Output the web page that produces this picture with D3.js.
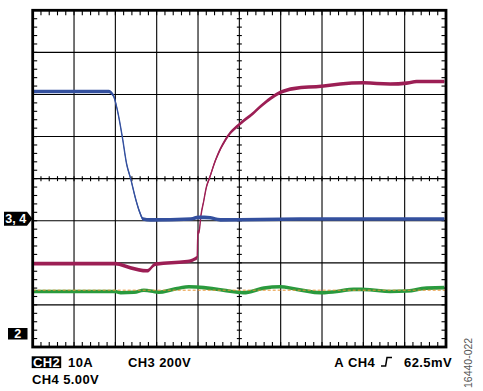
<!DOCTYPE html>
<html>
<head>
<meta charset="utf-8">
<script src="https://cdn.jsdelivr.net/npm/d3@7"></script>
<style>
html,body{margin:0;padding:0;background:#fff;}
svg{display:block;font-family:"Liberation Sans",Arial,sans-serif;}
</style>
</head>
<body>
<svg id="c" width="483" height="391"></svg>
<script>
// Time and amplitude in screen divisions (10 x 8 graticule, centre = 0)
const blueT = [0.02,1.84,1.95,2.05,2.17,2.27,2.37,2.49,2.59,2.67,2.85,3.82,4.01,4.30,4.54,6.47,9.96];
const blueV = [2.07,2.07,1.98,1.62,0.98,0.36,0.00,-0.48,-0.80,-0.96,-0.98,-0.96,-0.92,-0.93,-0.98,-0.96,-0.96];

const redT = [0.02,2.00,2.37,2.77,2.97,3.74,3.92,3.98,3.99,4.00,4.02,4.07,4.14,4.20,4.28,4.42,4.70,5.01,5.27,5.59,5.99,6.31,7.04,7.44,8.00,8.65,9.05,9.29,9.96];
const redV = [-2.02,-2.02,-2.12,-2.19,-2.03,-1.97,-1.91,-1.87,-1.48,-1.24,-1.29,-0.88,-0.52,-0.21,0.02,0.43,0.98,1.30,1.50,1.78,2.05,2.14,2.20,2.25,2.28,2.25,2.27,2.31,2.31];

const greenT = [0.02,2.00,2.13,2.45,2.69,2.85,3.05,3.45,3.78,4.14,4.54,5.10,5.59,5.99,6.39,6.96,7.36,7.76,8.16,8.65,9.05,9.53,9.96];
const greenV = [-2.68,-2.68,-2.71,-2.70,-2.65,-2.67,-2.70,-2.62,-2.57,-2.59,-2.64,-2.71,-2.60,-2.57,-2.63,-2.71,-2.68,-2.63,-2.64,-2.68,-2.67,-2.60,-2.59];

const trigLevel = -2.65;

const labelsLeft = ["CH2","10A","CH3 200V"];
const labelCH4 = "CH4 5.00V";
const labelTrig = ["A","CH4","62.5mV"];
const figId = "16440-022";
const markers = ["3, 4","2"];

const svg = d3.select("#c");
const x = d3.scaleLinear().domain([0,10]).range([32.7,446]);
const y = d3.scaleLinear().domain([-4,4]).range([347,10.3]);

// grid
const g = svg.append("g");
g.selectAll("line.vx").data(d3.range(1,10)).join("line")
  .attr("x1",d=>x(d)).attr("x2",d=>x(d)).attr("y1",y(4)).attr("y2",y(-4))
  .attr("stroke","#000").attr("stroke-width",1.1);
g.selectAll("line.hy").data(d3.range(-3,4)).join("line")
  .attr("y1",d=>y(d)).attr("y2",d=>y(d)).attr("x1",x(0)).attr("x2",x(10))
  .attr("stroke","#000").attr("stroke-width",1.1);

// minor ticks
const mx = d3.range(0,10.001,0.2), my = d3.range(-4,4.001,0.2);
const tk = svg.append("g").attr("stroke","#000").attr("stroke-width",1.1);
tk.selectAll("line.t").data(mx).join("line").attr("x1",d=>x(d)).attr("x2",d=>x(d)).attr("y1",y(4)).attr("y2",y(4)+5);
tk.selectAll("line.b").data(mx).join("line").attr("x1",d=>x(d)).attr("x2",d=>x(d)).attr("y1",y(-4)).attr("y2",y(-4)-5);
tk.selectAll("line.cx").data(mx).join("line").attr("x1",d=>x(d)).attr("x2",d=>x(d)).attr("y1",y(0)-2.5).attr("y2",y(0)+2.5);
tk.selectAll("line.l").data(my).join("line").attr("y1",d=>y(d)).attr("y2",d=>y(d)).attr("x1",x(0)).attr("x2",x(0)+4.5);
tk.selectAll("line.r").data(my).join("line").attr("y1",d=>y(d)).attr("y2",d=>y(d)).attr("x1",x(10)).attr("x2",x(10)-4.5);
tk.selectAll("line.cy").data(my).join("line").attr("y1",d=>y(d)).attr("y2",d=>y(d)).attr("x1",x(5)-2.5).attr("x2",x(5)+2.5);

// traces
function trace(T,V,color,half){
  const pts = T.map((t,i)=>[t,V[i]]);
  const area = d3.area().x(d=>x(d[0])).y0(d=>y(d[1])-half).y1(d=>y(d[1])+half).curve(d3.curveMonotoneX);
  const line = d3.line().x(d=>x(d[0])).y(d=>y(d[1])).curve(d3.curveMonotoneX);
  svg.append("path").attr("d",area(pts)).attr("fill",color);
  svg.append("path").attr("d",line(pts)).attr("fill","none").attr("stroke",color).attr("stroke-width",1.4);
}
trace(greenT,greenV,"#2a9a3e",1.8);
svg.append("line").attr("x1",x(0)).attr("x2",x(10)).attr("y1",y(trigLevel)).attr("y2",y(trigLevel))
  .attr("stroke","#e8922e").attr("stroke-width",1).attr("stroke-dasharray","3,2");
trace(redT,redV,"#9c1f55",1.8);
trace(blueT,blueV,"#34509e",1.8);

// border
svg.append("rect").attr("x",x(0)).attr("y",y(4)).attr("width",x(10)-x(0)).attr("height",y(-4)-y(4))
  .attr("fill","none").attr("stroke","#000").attr("stroke-width",2.8);

// channel markers
const m1y = y(-1)-2;
svg.append("path").attr("d",`M4,${m1y-7}H27L32.5,${m1y}L27,${m1y+7}H4Z`).attr("fill","#000");
svg.append("text").attr("x",15.8).attr("y",m1y+4.5).attr("text-anchor","middle").attr("fill","#fff")
  .attr("font-size",12.5).attr("font-weight","bold").text(markers[0]);
svg.append("rect").attr("x",8).attr("y",328).attr("width",19.5).attr("height",11.5).attr("fill","#000");
svg.append("text").attr("x",17.8).attr("y",338.3).attr("text-anchor","middle").attr("fill","#fff")
  .attr("font-size",12.5).attr("font-weight","bold").text(markers[1]);

// bottom labels
const fs = 13;
const ls = 0.4;
function lab(xp,yp,t,anchor){
  return svg.append("text").attr("x",xp).attr("y",yp).attr("font-size",fs).attr("font-weight","bold")
    .attr("letter-spacing",ls).attr("text-anchor",anchor||"start").text(t);
}
svg.append("rect").attr("x",31.7).attr("y",356.3).attr("width",29.5).attr("height",11.8).attr("fill","#000");
lab(46.6,367,labelsLeft[0],"middle").attr("fill","#fff");
lab(68,367,labelsLeft[1]);
lab(128,367,labelsLeft[2]);
lab(32,384,labelCH4);

lab(334.3,367,labelTrig[0]);
lab(348,367,labelTrig[1]);
svg.append("path").attr("d","M381,366H385.6L387,357.6H392").attr("fill","none").attr("stroke","#000").attr("stroke-width",1.5);
lab(452,367,labelTrig[2],"end");

svg.append("text").attr("transform","translate(472,388) rotate(-90)").attr("font-size",10.5)
  .attr("fill","#555").text(figId);
</script>
</body>
</html>
